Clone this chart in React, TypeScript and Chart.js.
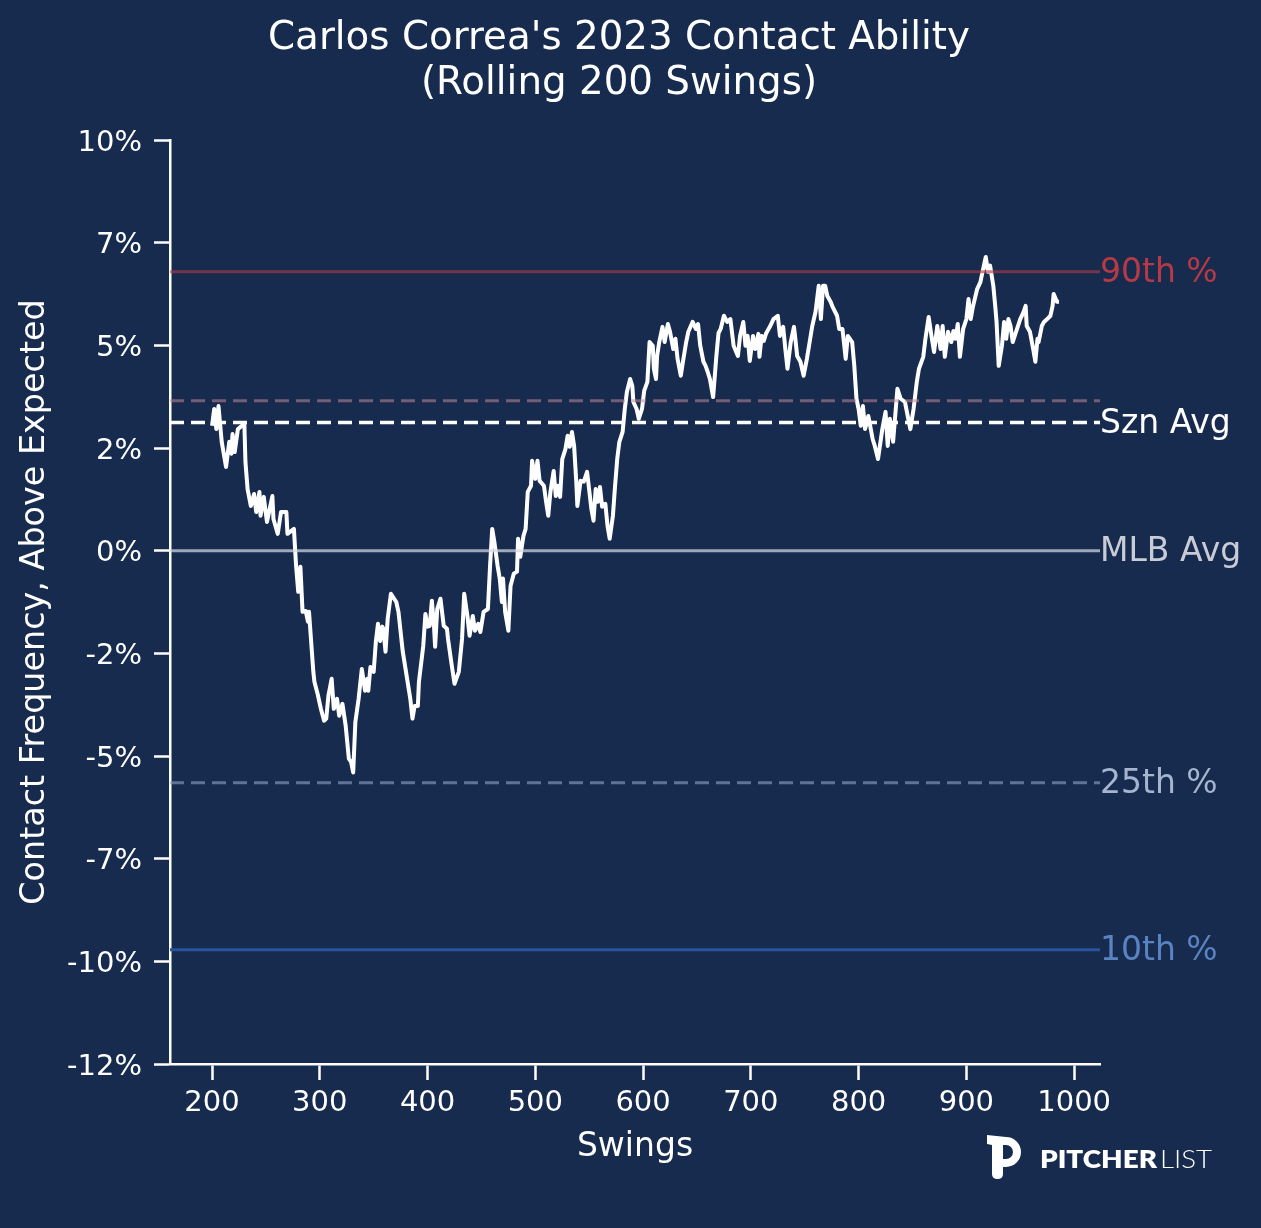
import React, { useEffect, useRef } from 'react';
import { Chart, registerables } from 'chart.js';

Chart.register(...registerables);

// ---------------- DATA ----------------
const swings = [
  200, 202, 204, 206, 209, 213, 216, 218, 219, 221,
  224, 230, 231, 233, 236, 239, 241, 244, 245, 248,
  251, 256, 257, 261, 264, 269, 270, 276, 278, 280,
  282, 284, 287, 289, 290, 294, 295, 298, 301, 304,
  306, 308, 311, 313, 316, 318, 321, 324, 327, 329,
  331, 333, 336, 339, 342, 344, 345, 347, 350, 352,
  354, 356, 358, 359, 361, 363, 366, 371, 373, 377,
  380, 384, 386, 388, 391, 392, 396, 398, 400, 402,
  404, 406, 407, 409, 412, 415, 418, 419, 422, 425,
  429, 432, 434, 437, 439, 442, 444, 447, 449, 452,
  456, 458, 460, 462, 465, 467, 469, 470, 472, 475,
  477, 480, 483, 484, 486, 489, 491, 493, 496, 497,
  500, 502, 504, 508, 510, 512, 514, 517, 519, 521,
  523, 525, 528, 530, 532, 534, 536, 538, 539, 542,
  545, 548, 549, 552, 554, 556, 558, 560, 562, 565,
  567, 569, 572, 574, 576, 578, 581, 583, 585, 588,
  590, 591, 594, 596, 599, 601, 604, 606, 609, 610,
  612, 613, 615, 618, 620, 623, 625, 628, 630, 632,
  635, 637, 640, 642, 646, 649, 651, 653, 656, 658,
  660, 662, 665, 668, 670, 672, 675, 678, 681, 684,
  688, 690, 693, 695, 697, 699, 702, 704, 707, 708,
  710, 712, 714, 718, 721, 725, 727, 730, 732, 734,
  737, 740, 741, 743, 746, 749, 752, 754, 757, 760,
  763, 765, 767, 769, 771, 774, 776, 780, 782, 785,
  788, 790, 794, 796, 798, 800, 802, 804, 806, 809,
  813, 815, 818, 822, 825, 827, 829, 832, 836, 839,
  843, 848, 851, 854, 856, 860, 862, 865, 868, 870,
  873, 876, 878, 880, 883, 886, 888, 890, 892, 894,
  897, 900, 902, 904, 906, 910, 913, 915, 918, 920,
  922, 925, 927, 928, 930, 933, 935, 937, 939, 941,
  943, 947, 950, 953, 955, 956, 959, 962, 964, 966,
  967, 970, 972, 975, 978, 980, 981, 984, 986,
];

const contactAboveExpected = [
  3.04, 3.45, 2.96, 3.52, 2.65, 2.04, 2.65, 2.36, 2.84, 2.40,
  2.96, 3.09, 2.16, 1.50, 1.09, 1.38, 0.94, 1.43, 0.85, 1.31,
  0.70, 1.33, 0.77, 0.41, 0.94, 0.94, 0.41, 0.53, -0.37, -1.00,
  -0.39, -1.49, -1.47, -1.73, -1.49, -2.95, -3.19, -3.49, -3.85, -4.14,
  -4.09, -3.53, -3.12, -3.85, -3.61, -4.02, -3.73, -4.26, -5.07, -5.14,
  -5.40, -4.17, -3.61, -2.88, -3.41, -3.12, -3.41, -2.83, -2.95, -2.22,
  -1.78, -2.20, -1.85, -1.90, -2.46, -1.66, -1.05, -1.25, -1.49, -2.46,
  -2.95, -3.61, -4.09, -3.78, -3.78, -3.19, -2.32, -1.54, -1.85, -1.83,
  -1.22, -1.85, -2.34, -1.42, -1.17, -1.83, -1.90, -2.15, -2.71, -3.24,
  -2.95, -2.15, -1.05, -1.59, -2.07, -1.59, -1.95, -1.78, -1.98, -1.49,
  -1.42, -0.37, 0.53, 0.21, -0.37, -0.68, -1.25, -0.68, -1.49, -1.95,
  -0.86, -0.56, -0.51, 0.29, -0.15, 0.36, 0.53, 1.43, 1.58, 2.19,
  1.75, 2.19, 1.70, 1.58, 1.19, 0.85, 1.43, 1.94, 1.33, 1.58,
  1.31, 2.23, 2.48, 2.80, 2.53, 2.89, 2.55, 1.68, 1.09, 1.70,
  1.68, 1.92, 1.70, 1.02, 0.73, 1.50, 1.19, 1.55, 1.07, 1.14,
  0.60, 0.29, 0.85, 1.58, 2.23, 2.65, 2.89, 3.45, 3.87, 4.18,
  4.01, 3.62, 3.45, 3.21, 3.45, 3.89, 4.11, 5.08, 4.99, 4.43,
  4.18, 4.74, 5.08, 5.45, 5.08, 5.52, 5.33, 4.91, 5.16, 4.67,
  4.26, 4.60, 5.08, 5.33, 5.57, 5.40, 5.52, 5.00, 4.60, 4.50,
  4.35, 4.18, 3.74, 4.74, 5.30, 5.40, 5.72, 5.57, 5.64, 4.99,
  4.74, 5.23, 5.57, 4.99, 5.23, 4.62, 5.23, 4.91, 5.28, 4.72,
  5.23, 5.11, 5.28, 5.47, 5.64, 5.72, 5.23, 5.45, 4.91, 4.43,
  5.08, 5.45, 5.23, 4.74, 4.60, 4.26, 4.67, 4.99, 5.47, 5.81,
  6.45, 5.64, 6.45, 6.45, 6.20, 6.06, 5.93, 5.72, 5.40, 5.40,
  4.67, 5.23, 5.08, 4.50, 3.70, 3.45, 3.04, 3.52, 2.96, 3.28,
  2.72, 2.55, 2.23, 2.96, 3.38, 2.55, 3.21, 2.65, 3.94, 3.70,
  3.62, 2.96, 3.45, 4.11, 4.43, 4.72, 5.16, 5.69, 5.16, 4.84,
  5.47, 4.91, 5.47, 4.72, 5.33, 5.08, 5.35, 5.16, 5.52, 4.72,
  5.40, 5.64, 6.13, 5.64, 5.93, 6.37, 6.54, 6.79, 7.15, 6.79,
  6.94, 6.45, 5.89, 5.57, 4.50, 4.99, 5.57, 5.16, 5.64, 5.47,
  5.08, 5.40, 5.64, 5.81, 5.96, 5.47, 5.33, 4.91, 4.60, 5.16,
  5.08, 5.47, 5.57, 5.64, 5.72, 5.96, 6.25, 6.06, 6.06,
];

const xTickValues = [200, 300, 400, 500, 600, 700, 800, 900, 1000];
const yTickValues = [-12.5, -10, -7.5, -5, -2.5, 0, 2.5, 5, 7.5, 10];
const yTickLabels = ['-12%', '-10%', '-7%', '-5%', '-2%', '0%', '2%', '5%', '7%', '10%'];

const refNames = ['90th %', '', 'Szn Avg', 'MLB Avg', '25th %', '10th %'];
const refValues = [6.79, 3.65, 3.12, 0, -5.65, -9.72];

const titleLines = ["Carlos Correa's 2023 Contact Ability", '(Rolling 200 Swings)'];
const xTitle = 'Swings';
const yTitle = 'Contact Frequency, Above Expected';

// ---------------- STYLE ----------------
const X_MIN = 161;
const X_MAX = 1024;
const Y_MIN = -12.5;
const Y_MAX = 10;
const BG = '#172b4f';
const FONT = '"DejaVu Sans", "Liberation Sans", sans-serif';

const refStyles = [
  { line: 'rgba(178,56,70,0.62)', label: '#b53a46', dash: [] as number[], width: 3 },
  { line: 'rgba(195,135,150,0.55)', label: '', dash: [14, 7], width: 3 },
  { line: '#ffffff', label: '#ffffff', dash: [14, 7], width: 3.5 },
  { line: 'rgba(212,216,226,0.72)', label: '#c8ccd6', dash: [] as number[], width: 3 },
  { line: 'rgba(140,160,192,0.62)', label: '#a5b5cf', dash: [14, 7], width: 3 },
  { line: '#27549a', label: '#5a83c2', dash: [] as number[], width: 3 },
];

const bgPlugin = {
  id: 'bgFill',
  beforeDraw(chart: any) {
    const ctx = chart.ctx;
    ctx.save();
    ctx.fillStyle = BG;
    ctx.fillRect(0, 0, chart.width, chart.height);
    ctx.restore();
  },
};

const textPlugin = {
  id: 'textDecor',
  afterDraw(chart: any) {
    const ctx = chart.ctx as CanvasRenderingContext2D;
    const area = chart.chartArea;
    const yScale = chart.scales.y;
    ctx.save();
    ctx.fillStyle = '#ffffff';
    ctx.textBaseline = 'alphabetic';
    ctx.textAlign = 'center';

    // title
    ctx.font = `38.8px ${FONT}`;
    ctx.fillText(titleLines[0], 619, 49);
    ctx.fillText(titleLines[1], 619, 94);

    // axis titles
    ctx.font = `33px ${FONT}`;
    ctx.fillText(xTitle, (area.left + area.right) / 2, 1156);
    ctx.font = `33.4px ${FONT}`;
    ctx.save();
    ctx.translate(44, (area.top + area.bottom) / 2);
    ctx.rotate(-Math.PI / 2);
    ctx.fillText(yTitle, 0, 0);
    ctx.restore();

    // reference labels
    ctx.textAlign = 'left';
    ctx.font = `33px ${FONT}`;
    refValues.forEach((v, i) => {
      if (!refNames[i]) return;
      ctx.fillStyle = refStyles[i].label;
      ctx.fillText(refNames[i], area.right, yScale.getPixelForValue(v) + 10);
    });

    // logo icon
    ctx.fillStyle = '#ffffff';
    ctx.beginPath();
    ctx.moveTo(987, 1135);
    ctx.lineTo(1006, 1137);
    ctx.arc(1006, 1152, 15, -Math.PI / 2, Math.PI / 2, false);
    ctx.lineTo(1003, 1167);
    ctx.lineTo(1003, 1174);
    ctx.quadraticCurveTo(1003, 1179, 997.5, 1179);
    ctx.quadraticCurveTo(992, 1179, 992, 1174);
    ctx.lineTo(992, 1145);
    ctx.lineTo(987, 1144);
    ctx.closePath();
    ctx.fill();
    ctx.fillStyle = BG;
    ctx.beginPath();
    ctx.moveTo(1003, 1145);
    ctx.lineTo(1006, 1145);
    ctx.arc(1006, 1152, 7, -Math.PI / 2, Math.PI / 2, false);
    ctx.lineTo(1003, 1159);
    ctx.closePath();
    ctx.fill();

    // logo text
    ctx.fillStyle = '#ffffff';
    const drawFit = (txt: string, font: string, x: number, w: number, base: number) => {
      ctx.font = font;
      const m = ctx.measureText(txt).width;
      ctx.save();
      ctx.translate(x, base);
      ctx.scale(w / m, 1);
      ctx.fillText(txt, 0, 0);
      ctx.restore();
    };
    drawFit('PITCHER', `800 25px Lato, "Open Sans", sans-serif`, 1040, 117, 1168);
    drawFit('LIST', `300 25px Lato, "Open Sans", sans-serif`, 1160, 52, 1168);

    ctx.restore();
  },
};

export default function App() {
  const canvasRef = useRef<HTMLCanvasElement | null>(null);

  useEffect(() => {
    document.body.style.margin = '0';
    document.body.style.background = BG;
    const canvas = canvasRef.current;
    if (!canvas) return;

    const mainData = swings.map((s, i) => ({ x: s, y: contactAboveExpected[i] }));
    const refDatasets = refValues.map((v, i) => ({
      label: refNames[i] || 'ref',
      data: [
        { x: X_MIN, y: v },
        { x: X_MAX, y: v },
      ],
      borderColor: refStyles[i].line,
      borderWidth: refStyles[i].width,
      borderDash: refStyles[i].dash,
      pointRadius: 0,
      fill: false,
      tension: 0,
      order: i,
    }));

    const chart = new Chart(canvas, {
      type: 'line',
      data: {
        datasets: [
          {
            label: 'Rolling contact',
            data: mainData,
            borderColor: '#ffffff',
            borderWidth: 4,
            pointRadius: 0,
            tension: 0,
            fill: false,
            borderJoinStyle: 'round',
            order: 20,
          } as any,
          ...refDatasets,
        ],
      },
      options: {
        animation: false,
        responsive: false,
        devicePixelRatio: 1,
        layout: { padding: { top: 140, left: 0, right: 161, bottom: 0 } },
        plugins: {
          legend: { display: false },
          tooltip: { enabled: false },
          title: { display: false },
        },
        events: [],
        scales: {
          x: {
            type: 'linear',
            min: X_MIN,
            max: X_MAX,
            afterBuildTicks: (scale: any) => {
              scale.ticks = xTickValues.map((v) => ({ value: v }));
            },
            afterFit: (scale: any) => {
              scale.height = 164;
            },
            ticks: {
              color: '#ffffff',
              font: { family: FONT, size: 29 },
              padding: 6,
              maxRotation: 0,
              autoSkip: false,
              callback: (v: any) => String(v),
            },
            grid: {
              display: true,
              drawOnChartArea: false,
              drawTicks: true,
              tickLength: 16,
              tickWidth: 2.5,
              tickColor: '#ffffff',
            },
            border: { display: true, color: '#ffffff', width: 2.5 },
          },
          y: {
            type: 'linear',
            min: Y_MIN,
            max: Y_MAX,
            afterBuildTicks: (scale: any) => {
              scale.ticks = yTickValues.map((v) => ({ value: v }));
            },
            afterFit: (scale: any) => {
              scale.width = 170;
            },
            ticks: {
              color: '#ffffff',
              font: { family: FONT, size: 29 },
              padding: 12,
              labelOffset: 3,
              autoSkip: false,
              callback: (v: any) => {
                const idx = yTickValues.findIndex((t) => Math.abs(t - Number(v)) < 1e-6);
                return idx >= 0 ? yTickLabels[idx] : '';
              },
            },
            grid: {
              display: true,
              drawOnChartArea: false,
              drawTicks: true,
              tickLength: 16,
              tickWidth: 2.5,
              tickColor: '#ffffff',
            },
            border: { display: true, color: '#ffffff', width: 2.5 },
          },
        },
      } as any,
      plugins: [bgPlugin, textPlugin],
    });

    return () => {
      chart.destroy();
    };
  }, []);

  return (
    <div style={{ width: 1261, height: 1228, background: BG }}>
      <canvas ref={canvasRef} width={1261} height={1228} style={{ display: 'block' }} />
    </div>
  );
}
